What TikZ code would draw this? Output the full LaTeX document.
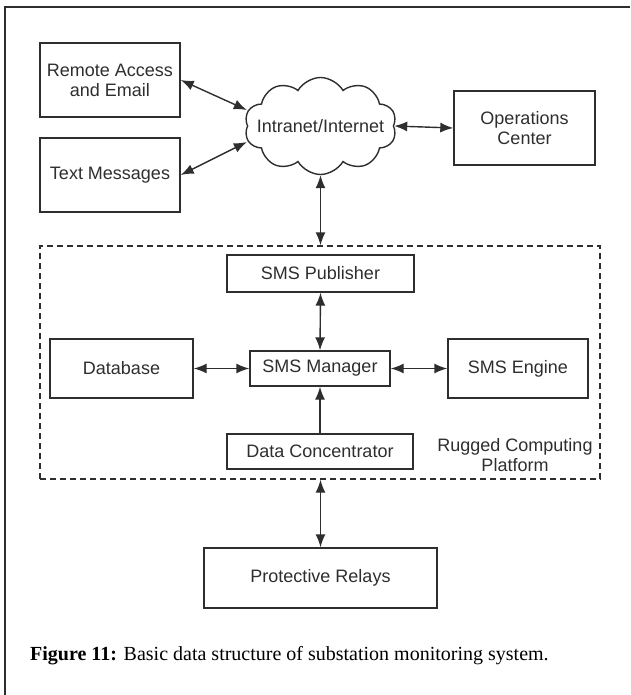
\documentclass[tikz,border=0pt]{standalone}
\usepackage{fontspec}
\setmainfont{Liberation Serif}
\newfontfamily\diagfont{Liberation Sans}
\usetikzlibrary{arrows.meta,shapes.symbols}
\definecolor{ink}{HTML}{2E2E2E}
\tikzset{
  blk/.style={draw=ink, line width=1.4pt, rectangle, inner sep=0pt, font=\diagfont\fontsize{18}{20}\selectfont, text=ink, align=center},
  conn/.style={draw=ink, line width=1.4pt, <->},
  oneway/.style={draw=ink, line width=1.4pt, ->},
}
\begin{document}
\begin{tikzpicture}[x=1pt,y=-1pt, >={Latex[length=13pt,width=10pt]}]
\useasboundingbox (0,0) rectangle (630,695);
% outer frame
\draw[ink, line width=1.2pt] (5,695) -- (5,7) -- (630,7);
% top row
\node[blk, minimum width=140pt, minimum height=74pt] (ra) at (110,80) {Remote Access\\and Email};
\node[blk, minimum width=140pt, minimum height=74pt] (tm) at (110,175) {Text Messages};
\node[draw=ink, line width=1.4pt, cloud, cloud puffs=10, cloud puff arc=120, cloud ignores aspect, minimum width=152pt, minimum height=97pt, inner sep=0pt,
  label={[font=\diagfont\fontsize{18}{20}\selectfont, text=ink]center:Intranet/Internet}] (net) at (320.5,126) {};
\node[blk, minimum width=141pt, minimum height=74pt] (ops) at (524.5,128) {Operations\\Center};
% platform
\node[draw=ink, line width=1.4pt, dash pattern=on 6pt off 4pt, rectangle, minimum width=560pt, minimum height=233pt, inner sep=0pt] (rugged) at (320,362.5) {};
\node[font=\diagfont\fontsize{18}{20}\selectfont, text=ink, align=center, inner sep=0pt] (rcp) at (515,455) {Rugged Computing\\Platform};
\node[blk, minimum width=187pt, minimum height=37pt] (pub) at (320.5,273.5) {SMS Publisher};
\node[blk, minimum width=140pt, minimum height=35pt] (mgr) at (320,368.5) {SMS Manager};
\node[blk, minimum width=143pt, minimum height=59pt] (db) at (121.5,368.5) {Database};
\node[blk, minimum width=140pt, minimum height=59pt] (eng) at (518,368.5) {SMS Engine};
\node[blk, minimum width=186pt, minimum height=35pt] (dc) at (320,451.5) {Data Concentrator};
\node[blk, minimum width=233pt, minimum height=60pt] (pr) at (320.5,578) {Protective Relays};
% connectors
\draw[conn] (ra.east) -- ([yshift=16pt]net.west);
\draw[conn] (tm.east) -- ([yshift=-16pt]net.west);
\draw[conn] (net.east) -- (ops.west);
\draw[conn] (net.south) -- (net.south |- rugged.north);
\draw[conn] (pub.south) -- (mgr.north);
\draw[conn] (db.east) -- (mgr.west);
\draw[conn] (mgr.east) -- (eng.west);
\draw[oneway] (dc.north) -- (mgr.south);
\draw[conn] (rugged.south -| pr.north) -- (pr.north);
% caption
\node[anchor=base west, inner sep=0pt, font=\fontsize{20}{23}\selectfont] (cap) at (30,660) {\textbf{Figure 11:} Basic data structure of substation monitoring system.};
\end{tikzpicture}
\end{document}
